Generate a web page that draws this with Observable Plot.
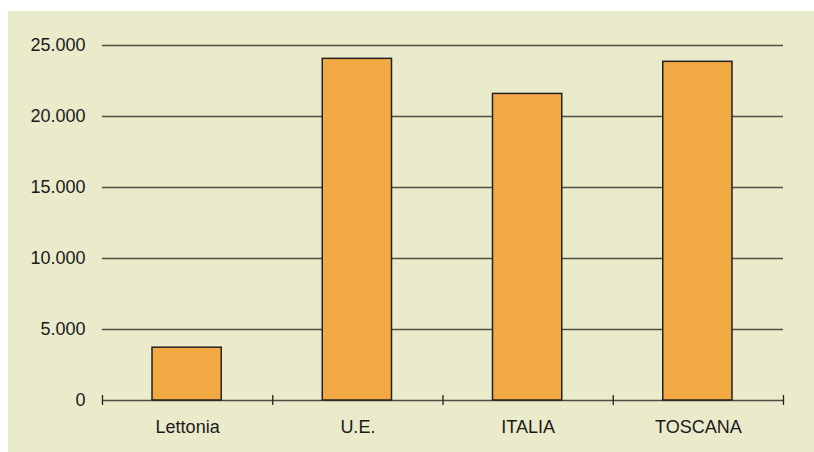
<!DOCTYPE html>
<html>
<head>
<meta charset="utf-8">
<script src="https://cdn.jsdelivr.net/npm/d3@7"></script>
<script src="https://cdn.jsdelivr.net/npm/@observablehq/plot@0.6"></script>
<style>
  html, body { margin: 0; padding: 0; background: #ffffff; }
  #card { position: absolute; left: 8px; top: 11px; width: 806px; height: 441px; background: #eaebcb; }
  #card svg { display: block; }
</style>
</head>
<body>
<div id="card"></div>
<script>
const categories = ["Lettonia", "U.E.", "ITALIA", "TOSCANA"];
const values = [3720, 24060, 21590, 23850];
const yTicks = [0, 5000, 10000, 15000, 20000, 25000];

const data = categories.map((c, i) => ({ category: c, index: i, value: values[i] }));
const boundaries = d3.range(categories.length + 1);
const fmt = d3.formatLocale({ decimal: ",", thousands: ".", grouping: [3], currency: ["", "€"] }).format(",d");

const chart = Plot.plot({
  width: 806,
  height: 441,
  marginLeft: 94,
  marginRight: 31,
  marginTop: 34,
  marginBottom: 52,
  style: { background: "transparent", fontFamily: "'Liberation Sans', Arial, sans-serif", fontSize: "18px", color: "#1a1a1a" },
  x: { type: "linear", domain: [0, categories.length], axis: null, label: null },
  y: { domain: [0, 25000], axis: null, label: null },
  marks: [
    Plot.ruleY(yTicks.filter(d => d > 0), { stroke: "#4e4e44", strokeWidth: 1.6 }),
    Plot.ruleY([0], { stroke: "#4e4e44", strokeWidth: 1.6 }),
    Plot.ruleX(boundaries, { x: d => d, y1: 0, y2: 0, insetTop: -5, insetBottom: -5, stroke: "#222", strokeWidth: 1.3 }),
    Plot.rectY(data, { x1: d => d.index, x2: d => d.index + 1, y1: 0, y2: "value", insetLeft: 50, insetRight: 51, fill: "#f2a943", stroke: "#222", strokeWidth: 1.5 }),
    Plot.axisY({ ticks: yTicks, tickSize: 0, tickPadding: 17, tickFormat: fmt, fontSize: 18, fill: "#1a1a1a", label: null }),
    Plot.text(data, { x: d => d.index + 0.5, y: 0, text: "category", lineAnchor: "top", dy: 20, fontSize: 18, fill: "#1a1a1a" })
  ]
});
document.getElementById("card").appendChild(chart);
</script>
</body>
</html>
